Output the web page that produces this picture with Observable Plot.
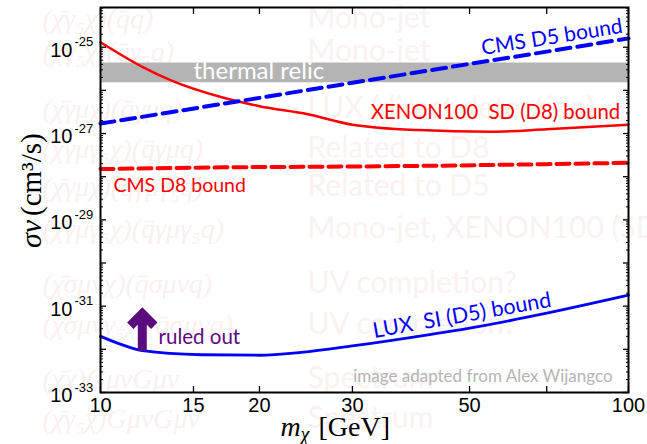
<!DOCTYPE html>
<html><head><meta charset="utf-8">
<script src="https://cdn.jsdelivr.net/npm/d3@7"></script>
<script src="https://cdn.jsdelivr.net/npm/@observablehq/plot@0.6"></script>
<style>html,body{margin:0;padding:0;background:#fff} svg{display:block}</style>
</head><body><div id="chart"></div>
<script>
// ---- data ----
const xenonMass  = [10, 12, 13.6, 16.9, 20, 24.7, 30, 40, 55, 70, 100];
const xenonSigma = [1.3e-25, 3.5e-26, 1.7e-26, 7e-27, 4.3e-27, 2.8e-27, 1.6e-27, 1.2e-27, 1.1e-27, 1.25e-27, 1.6e-27];
const cmsD5Mass  = [10, 20, 30, 50, 70, 100];
const cmsD5Sigma = [1.7e-27, 6.7e-27, 1.5e-26, 4.1e-26, 7.9e-26, 1.6e-25];
const cmsD8Mass  = [10, 17, 30, 44, 70, 100];
const cmsD8Sigma = [1.5e-28, 1.65e-28, 1.72e-28, 1.8e-28, 1.95e-28, 2.1e-28];
const luxMass    = [10, 11, 12, 15.5, 20, 24, 30, 42, 50, 70, 100];
const luxSigma   = [2.0e-32, 1.27e-32, 9.3e-33, 7.5e-33, 7.3e-33, 8.5e-33, 1.2e-32, 2.2e-32, 3.1e-32, 6.9e-32, 1.8e-31];
const relicBand  = [1.5e-26, 4.3e-26];
const xTicks     = [10, 15, 20, 30, 50, 70, 100];
const yLabelExps = [-25, -27, -29, -31, -33];
const yDecades   = [-33, -32, -31, -30, -29, -28, -27, -26, -25];
const seriesLabels = ["CMS D5 bound", "XENON100\u00a0\u00a0SD (D8) bound", "CMS D8 bound", "LUX\u00a0\u00a0SI (D5) bound", "thermal relic", "ruled out"];
const creditText = "image adapted from Alex Wijangco";
const watermarkNotes = ["Mono-jet", "Mono-jet", "LUX (direct detection)", "Related to D8", "Related to D5", "Mono-jet, XENON100 (SD)", "UV completion?", "UV completion?", "Spectrum", "Spectrum"];
const watermarkOps = ["(χ̄γ₅χ)(q̄q)", "(χ̄γ₅χ)(q̄γ₅q)", "(χ̄γμχ)(q̄γμq)", "(χ̄γμγ₅χ)(q̄γμq)", "(χ̄γμχ)(q̄γμγ₅q)", "(χ̄γμγ₅χ)(q̄γμγ₅q)", "(χ̄σμνχ)(q̄σμνq)", "(χ̄σμνγ₅χ)(q̄σμνq)", "(χ̄χ)GμνGμν", "(χ̄γ₅χ)GμνGμν"];

// ---- layout ----
const rows = (a, b) => a.map((m, i) => ({m, s: b[i]}));
const xenon = rows(xenonMass, xenonSigma);
const cmsD5 = rows(cmsD5Mass, cmsD5Sigma);
const cmsD8 = rows(cmsD8Mass, cmsD8Sigma);
const lux = rows(luxMass, luxSigma);
const yTop = Math.pow(10, -24.08);
const yMinor = [];
for (const e of yDecades) for (let k = 2; k <= 9; k++) { const v = k * Math.pow(10, e); if (v < yTop) yMinor.push(v); }
const yMajor = yDecades.map(e => Math.pow(10, e));
const WM_BASE = [20, 53, 110, 150, 188, 230, 285, 326, 380, 420];
const SANS = "Lato, 'Noto Sans', sans-serif";
const HELV = "'Liberation Sans', Arial, sans-serif";
const SERIF = "'Liberation Serif', 'DejaVu Serif', serif";
const purple = "#5c0b7e";

const wmMarks = [];
watermarkNotes.forEach((t, i) => wmMarks.push(Plot.text([t], {text: d => d, frameAnchor: "top-left", dx: 207, dy: WM_BASE[i], textAnchor: "start", lineAnchor: "bottom", fontSize: 30, fontFamily: SANS, fill: "#faf1f1"})));
watermarkOps.forEach((t, i) => wmMarks.push(Plot.text([t], {text: d => d, frameAnchor: "top-left", dx: -58, dy: WM_BASE[i], textAnchor: "start", lineAnchor: "bottom", fontSize: 28, fontStyle: "italic", fontFamily: SERIF, fill: "#faf0f0"})));

const arrowShape = {
  draw(context, l) {
    const w = 12;
    context.moveTo(0, 0); context.lineTo(0, -l);
    context.moveTo(-w, -l + w); context.lineTo(0, -l); context.lineTo(w, -l + w);
  }
};

const tickMarks = [
  Plot.axisX(xTicks, {anchor: "bottom", tickSize: -6, tickFormat: () => "", label: null, strokeWidth: 1.3}),
  Plot.axisX(xTicks, {anchor: "top", tickSize: -6, tickFormat: () => "", label: null, strokeWidth: 1.3}),
  Plot.axisX(xTicks, {anchor: "bottom", tickSize: 0, tickPadding: 5, fontSize: 20, fontFamily: HELV, fill: "#000", tickFormat: d => String(d), label: null}),
  Plot.axisY(yMajor, {anchor: "left", tickSize: -6, tickFormat: () => "", label: null, strokeWidth: 1.3}),
  Plot.axisY(yMajor, {anchor: "right", tickSize: -6, tickFormat: () => "", label: null, strokeWidth: 1.3}),
  Plot.axisY(yMinor, {anchor: "left", tickSize: -3, tickFormat: () => "", label: null, strokeWidth: 1}),
  Plot.axisY(yMinor, {anchor: "right", tickSize: -3, tickFormat: () => "", label: null, strokeWidth: 1}),
  Plot.text(yLabelExps, {y: d => Math.pow(10, d), text: () => "10", frameAnchor: "left", textAnchor: "end", lineAnchor: "middle", dx: -28, dy: 3, fontSize: 20, fontFamily: HELV, fill: "#000"}),
  Plot.text(yLabelExps, {y: d => Math.pow(10, d), text: d => String(d), frameAnchor: "left", textAnchor: "start", lineAnchor: "middle", dx: -26, dy: -5, fontSize: 13, fontFamily: HELV, fill: "#000"})
];

const chart = Plot.plot({
  width: 647, height: 444,
  marginLeft: 100, marginRight: 19, marginTop: 7, marginBottom: 52,
  x: {type: "log", domain: [10, 100], label: null},
  y: {type: "log", domain: [1e-33, yTop], label: null},
  style: {background: "#fff", overflow: "visible"},
  marks: [
    ...wmMarks,
    Plot.rect([relicBand], {x1: () => 10, x2: () => 100, y1: d => d[0], y2: d => d[1], fill: "#b4b4b4"}),
    Plot.text([seriesLabels[4]], {x: () => 15.0, y: () => 1.84e-26, text: d => d, textAnchor: "start", lineAnchor: "bottom", fontSize: 24, fontFamily: SANS, fill: "#fff"}),
    Plot.line(cmsD8, {x: "m", y: "s", stroke: "#ff0000", strokeWidth: 4, strokeDasharray: "13,6"}),
    Plot.line(xenon, {x: "m", y: "s", stroke: "#ff0000", strokeWidth: 2.5, curve: "monotone-x"}),
    Plot.line(cmsD5, {x: "m", y: "s", stroke: "#0000ff", strokeWidth: 4, strokeDasharray: "14,7"}),
    Plot.line(lux, {x: "m", y: "s", stroke: "#0000ff", strokeWidth: 2.8, curve: "monotone-x"}),
    Plot.vector([0], {x: () => 12, y: () => 9.3e-33, length: 37, anchor: "start", shape: arrowShape, stroke: purple, strokeWidth: 9, strokeLinejoin: "miter", strokeLinecap: "butt"}),
    Plot.text([seriesLabels[0]], {x: () => 52.9, y: () => 6.6e-26, text: d => d, textAnchor: "start", lineAnchor: "bottom", rotate: -9, fontSize: 21, fontFamily: SANS, fill: "#0000ff"}),
    Plot.text([seriesLabels[1]], {x: () => 32.5, y: () => 2.2e-27, text: d => d, textAnchor: "start", lineAnchor: "bottom", fontSize: 20.3, fontFamily: SANS, fill: "#ff0000"}),
    Plot.text([seriesLabels[2]], {x: () => 10.58, y: () => 4.4e-29, text: d => d, textAnchor: "start", lineAnchor: "bottom", fontSize: 19.5, fontFamily: SANS, fill: "#ff0000"}),
    Plot.text([seriesLabels[3]], {x: () => 33.0, y: () => 1.84e-32, text: d => d, textAnchor: "start", lineAnchor: "bottom", rotate: -10, fontSize: 21.5, fontFamily: SANS, fill: "#0000ff"}),
    Plot.text([seriesLabels[5]], {x: () => 12.88, y: () => 1.34e-32, text: d => d, textAnchor: "start", lineAnchor: "bottom", fontSize: 20.5, fontFamily: SANS, fill: purple}),
    Plot.text([creditText], {x: () => 30.1, y: () => 1.79e-33, text: d => d, textAnchor: "start", lineAnchor: "bottom", fontSize: 17, fontFamily: SANS, fill: "#b4b4b4"}),
    Plot.frame({stroke: "#000", strokeWidth: 2}),
    ...tickMarks,
    // axis titles
    Plot.text(["m"], {text: d => d, frameAnchor: "bottom", textAnchor: "start", lineAnchor: "bottom", dx: -84, dy: 43, fontSize: 28, fontStyle: "italic", fontFamily: SERIF, fill: "#000"}),
    Plot.text(["χ"], {text: d => d, frameAnchor: "bottom", textAnchor: "start", lineAnchor: "bottom", dx: -64, dy: 48, fontSize: 20, fontStyle: "italic", fontFamily: SERIF, fill: "#000"}),
    Plot.text(["[GeV]"], {text: d => d, frameAnchor: "bottom", textAnchor: "start", lineAnchor: "bottom", dx: -46, dy: 43, fontSize: 28, fontFamily: SERIF, fill: "#000"}),
    Plot.text(["σv"], {text: d => d, frameAnchor: "left", textAnchor: "start", lineAnchor: "bottom", rotate: -90, dx: -60, dy: 48, fontSize: 30, fontStyle: "italic", fontFamily: SERIF, fill: "#000"}),
    Plot.text(["(cm³/s)"], {text: d => d, frameAnchor: "left", textAnchor: "start", lineAnchor: "bottom", rotate: -90, dx: -60, dy: 16, fontSize: 29, fontFamily: SERIF, fill: "#000"})
  ]
});
document.getElementById("chart").appendChild(chart);
</script>
</body></html>
